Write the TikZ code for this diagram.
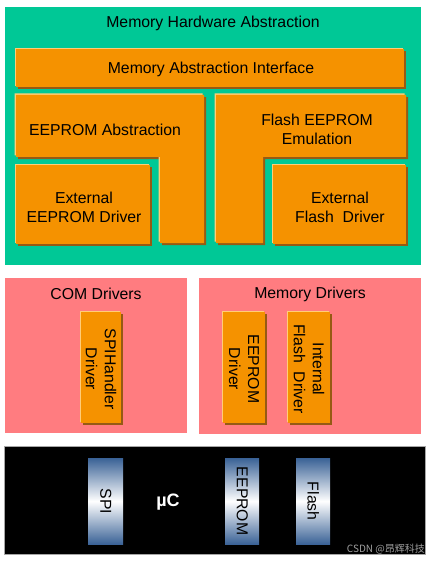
\documentclass[tikz,border=0pt]{standalone}
\usepackage{fontspec}
\setmainfont{Liberation Sans}
\newfontfamily\cjkfont{Noto Sans CJK SC}
\usetikzlibrary{shadows}
\definecolor{mhagreen}{RGB}{0,200,150}
\definecolor{blockorange}{RGB}{245,146,0}
\definecolor{blockshade}{RGB}{150,90,20}
\definecolor{blocklight}{RGB}{255,205,120}
\definecolor{drvpink}{RGB}{255,124,128}
\definecolor{pinblue}{RGB}{58,98,150}
\tikzset{
  layer/.style={
    draw=none, inner sep=0pt, outer sep=0pt, anchor=north west
  },
  block/.style={
    fill=blockorange, draw=none, inner sep=0pt, align=center,
    general shadow={shadow xshift=2.2pt, shadow yshift=-2.2pt, fill=blockshade},
    general shadow={shadow xshift=-1.5pt, shadow yshift=1.5pt, fill=blocklight}
  },
  label text/.style={
    font=\fontsize{15.8}{19}\selectfont, align=center, text=black, inner sep=0pt
  },
  pin bar/.style={
    top color=pinblue, bottom color=pinblue, middle color=white,
    draw=none, inner sep=0pt, anchor=north west
  }
}

\begin{document}
\begin{tikzpicture}[x=1pt, y=-1pt]
\useasboundingbox (0,0) rectangle (429,561);

% ---------------------------
% Memory Hardware Abstraction
% ---------------------------
\node[layer, fill=mhagreen, minimum width=416pt, minimum height=258pt] (mha) at (5,7) {};
\node[label text] (mha title) at (213,23) {Memory Hardware Abstraction};

\node[block, anchor=north west, minimum width=388pt, minimum height=38pt] (mai) at (16,49) {};
\node[label text] (mai text) at (211,69) {Memory Abstraction Interface};

\path[block] (16,95) -- (204,95) -- (204,243) -- (160,243) -- (160,157) -- (16,157) -- cycle;
\node[label text] (eep abs) at (105,130) {EEPROM Abstraction};

\path[block] (216,95) -- (406,95) -- (406,157) -- (263,157) -- (263,243) -- (216,243) -- cycle;
\node[label text] (fee) at (317,129) {Flash EEPROM\\Emulation};

\node[block, anchor=north west, minimum width=134pt, minimum height=79pt] (ext eep) at (16,165) {};
\node[label text] (ext eep text) at (84,207) {External\\EEPROM Driver};

\node[block, anchor=north west, minimum width=133pt, minimum height=79pt] (ext flash) at (273,165) {};
\node[label text] (ext flash text) at (340,207) {External\\Flash~~Driver};

% ---------------------------
% COM Drivers / Memory Drivers
% ---------------------------
\node[layer, fill=drvpink, minimum width=182pt, minimum height=155pt] (com) at (5,278) {};
\node[label text] (com title) at (96,294) {COM Drivers};

\node[layer, fill=drvpink, minimum width=222pt, minimum height=156pt] (memdrv) at (199,278) {};
\node[label text] (memdrv title) at (310,294) {Memory Drivers};

\node[block, anchor=north west, minimum width=40pt, minimum height=111pt] (spih) at (81,312) {};
\node[label text, rotate=-90] (spih text) at (101,369) {SPIHandler\\Driver};

\node[block, anchor=north west, minimum width=42pt, minimum height=111pt] (eep drv) at (223,312) {};
\node[label text, rotate=-90] (eep drv text) at (244,369) {EEPROM\\Driver};

\node[block, anchor=north west, minimum width=42pt, minimum height=111pt] (int flash) at (288,312) {};
\node[label text, rotate=-90] (int flash text) at (309,369) {Internal\\Flash~~Driver};

% ---------------------------
% microcontroller
% ---------------------------
\node[layer, fill=black, draw=gray!70, minimum width=421pt, minimum height=108pt] (uc) at (4,446) {};

\node[pin bar, minimum width=35pt, minimum height=86pt] (spi pin) at (88,458) {};
\node[label text, rotate=-90] (spi text) at (spi pin.center) {SPI};

\node[pin bar, minimum width=34pt, minimum height=86pt] (eep pin) at (225,458) {};
\node[label text, rotate=-90] (eep text) at (eep pin.center) {EEPROM};

\node[pin bar, minimum width=34pt, minimum height=86pt] (flash pin) at (296,458) {};
\node[label text, rotate=-90] (flash text) at (flash pin.center) {Flash};

\node[font=\bfseries\fontsize{18}{20}\selectfont, text=white, inner sep=0pt] (uc label) at (168,502) {µC};

\node[font=\cjkfont\fontsize{10}{11}\selectfont, text=gray!75, anchor=east, inner sep=0pt] (mark) at (425,549) {CSDN @昂辉科技};

\end{tikzpicture}
\end{document}
